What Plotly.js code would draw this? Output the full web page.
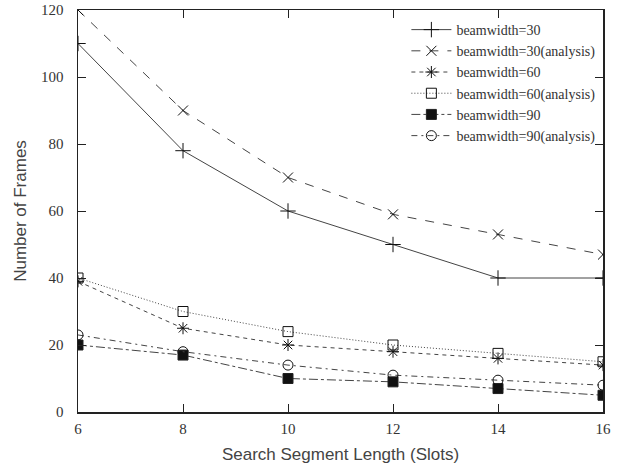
<!DOCTYPE html>
<html><head><meta charset="utf-8">
<script src="https://cdn.plot.ly/plotly-3.0.1.min.js"></script>
<style>html,body{margin:0;padding:0;background:#fff}#chart{width:632px;height:468px}</style>
</head><body><div id="chart"></div>
<script>
const segLen = [6, 8, 10, 12, 14, 16];
const bw30 = [110, 78, 60, 50, 40, 40];
const bw30a = [120, 90, 70, 59, 53, 47];
const bw60 = [39, 25, 20, 18, 16, 14];
const bw60a = [40, 30, 24, 20, 17.5, 15];
const bw90 = [20, 17, 10, 9, 7, 5];
const bw90a = [23, 18, 14, 11, 9.5, 8];
const names = ['beamwidth=30','beamwidth=30(analysis)','beamwidth=60','beamwidth=60(analysis)','beamwidth=90','beamwidth=90(analysis)'];
const series = [bw30, bw30a, bw60, bw60a, bw90, bw90a];
const dashes = ['solid','dash','4px,4px','1px,2px','dashdot','6px,4px,2px,4px'];
const symbols = ['cross-thin-open','x-thin-open','asterisk-open','square-open','square','circle-open'];
const sizes = [11, 10, 10, 10, 10, 10];
const traces = series.map((y,i)=>({
  x: segLen, y: y, name: names[i], type:'scatter', mode:'lines+markers',
  line:{color:'#444', width:1, dash:dashes[i]},
  marker:{symbol:symbols[i], size:sizes[i], color:'#111', line:{color:'#222', width:1}}
}));
const layout = {
  width:632, height:468,
  margin:{l:78, r:29, t:10, b:56},
  paper_bgcolor:'#fff', plot_bgcolor:'#fff',
  showlegend:true,
  legend:{x:0.995, y:0.99, xanchor:'right', yanchor:'top', bgcolor:'rgba(0,0,0,0)',
    font:{family:'Liberation Serif', size:14, color:'#333'}, tracegroupgap:0, itemwidth:40},
  xaxis:{range:[6,16], tickvals:segLen, ticks:'inside', ticklen:8, tickcolor:'#222',
    showline:true, linecolor:'#222', linewidth:1.5, mirror:'allticks', showgrid:false, zeroline:false,
    tickfont:{family:'Liberation Serif', size:15, color:'#333'}, ticklabelstandoff:2,
    title:{text:'Search Segment Length (Slots)', font:{family:'Liberation Sans', size:17, color:'#444'}, standoff:12}},
  yaxis:{range:[0,120], dtick:20, ticks:'inside', ticklen:8, tickcolor:'#222',
    showline:true, linecolor:'#222', linewidth:1.5, mirror:'allticks', showgrid:false, zeroline:false,
    tickfont:{family:'Liberation Serif', size:15, color:'#333'}, ticklabelstandoff:10,
    title:{text:'Number of Frames', font:{family:'Liberation Sans', size:17, color:'#444'}, standoff:10}}
};
Plotly.newPlot('chart', traces, layout, {displayModeBar:false, staticPlot:true});
</script></body></html>
